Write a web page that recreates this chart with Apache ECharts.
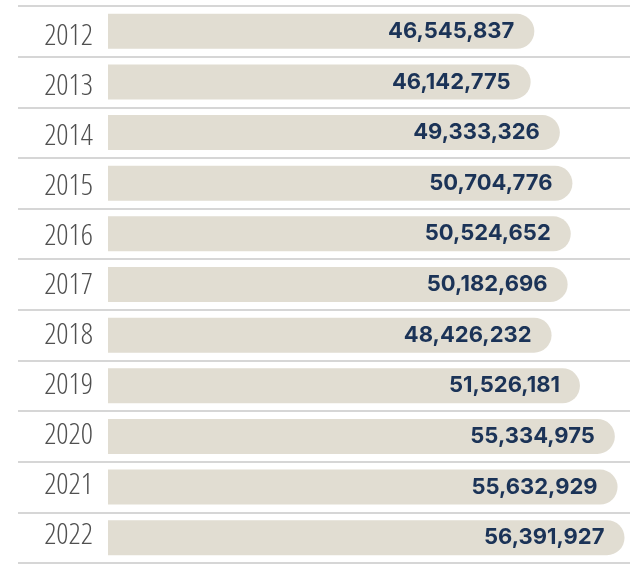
<!DOCTYPE html>
<html><head><meta charset="utf-8">
<script src="https://cdn.jsdelivr.net/npm/echarts@6/dist/echarts.min.js"></script>
<style>html,body{margin:0;padding:0;background:#fff}#c{width:643px;height:567px}</style>
</head><body><div id="c"></div>
<script>
var years = ['2012','2013','2014','2015','2016','2017','2018','2019','2020','2021','2022'];
var values = [46545837,46142775,49333326,50704776,50524652,50182696,48426232,51526181,55334975,55632929,56391927];

var chart = echarts.init(document.getElementById('c'), null, {renderer:'canvas'});
chart.setOption({
  animation:false,
  backgroundColor:'#ffffff',
  grid:[
    {left:108, right:12, top:6, bottom:4},
    {left:18, right:13, top:6, bottom:4},
    {left:108, right:12, top:11.2, height:549.4}
  ],
  xAxis:[
    {gridIndex:0, type:'value', min:0, max:57100000, show:false},
    {gridIndex:1, type:'value', min:0, max:1, show:false},
    {gridIndex:2, type:'value', min:0, max:1, show:false}
  ],
  yAxis:[
    {gridIndex:0, type:'category', data:years, inverse:true, show:false},
    {gridIndex:1, type:'category', data:years, inverse:true,
     axisLine:{show:false}, axisTick:{show:false}, axisLabel:{show:false},
     splitLine:{show:true, lineStyle:{color:'#c8c8c8', width:1.5}}},
    {gridIndex:2, type:'category', data:years, inverse:true,
     axisLine:{show:false}, axisTick:{show:false}, splitLine:{show:false},
     axisLabel:{margin:15, color:'#505050', fontFamily:"'Open Sans'", fontWeight:'300 condensed', fontSize:30}}
  ],
  series:[{
    type:'bar', xAxisIndex:0, yAxisIndex:0, data:values, barWidth:35,
    itemStyle:{color:'#e1ddd2', borderRadius:[0,18,18,0]},
    label:{show:true, position:'insideRight', distance:20,
      formatter:function(p){return p.value.toLocaleString('en-US');},
      color:'#1b3357', fontFamily:'Inter', fontWeight:'bold', fontSize:22}
  }]
});
</script></body></html>
